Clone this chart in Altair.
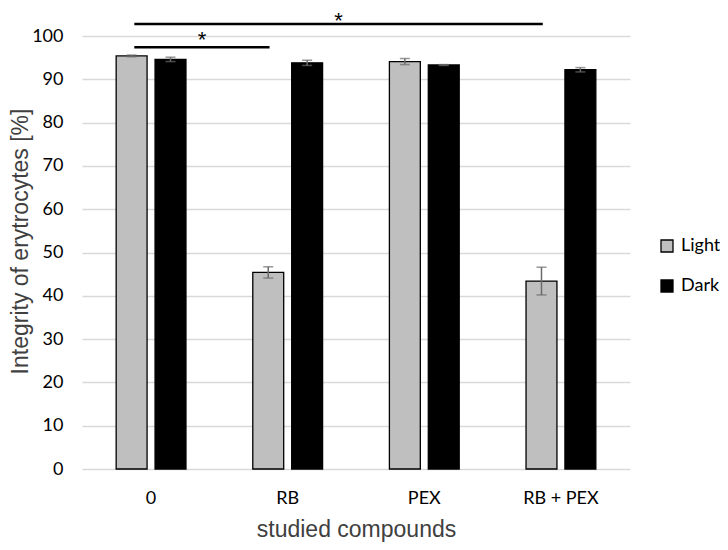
import altair as alt
import pandas as pd

categories = ["0", "RB", "PEX", "RB + PEX"]
series = ["Light", "Dark"]
light_values = [95.4, 45.4, 94.1, 43.4]
light_errors = [0.2, 1.3, 0.7, 3.2]
dark_values = [94.6, 93.8, 93.3, 92.2]
dark_errors = [0.5, 0.6, 0.1, 0.5]
y_ticks = [0, 10, 20, 30, 40, 50, 60, 70, 80, 90, 100]

sig_start = ["0", "0"]
sig_end = ["RB", "RB + PEX"]
sig_line_level = [97.4, 102.8]
sig_star_level = [97.4, 101.8]
sig_marks = ["*", "*"]

x_title = "studied compounds"
y_title = "Integrity of erytrocytes [%]"

rows = []
for c, v, e in zip(categories, light_values, light_errors):
    rows.append({"compound": c, "series": "Light", "value": v, "lo": v - e, "hi": v + e})
for c, v, e in zip(categories, dark_values, dark_errors):
    rows.append({"compound": c, "series": "Dark", "value": v, "lo": v - e, "hi": v + e})
df = pd.DataFrame(rows)

sig_df = pd.DataFrame({"compound": sig_start, "compound_end": sig_end, "level": sig_line_level})
star_df = pd.DataFrame({
    "mid": [(categories.index(s) + categories.index(e)) / 2 for s, e in zip(sig_start, sig_end)],
    "level": sig_star_level,
    "label": sig_marks,
})

PAD_INNER = 0.489
PAD_OUTER = 0.25
B_START = 0.26
B_END = 0.24
n = len(categories)
span_units = n - PAD_INNER + 2 * PAD_OUTER
start_off = PAD_OUTER + 0.5 * (B_START + B_END) * (1 - PAD_INNER)

x_scale = alt.Scale(domain=categories, paddingInner=PAD_INNER, paddingOuter=PAD_OUTER)
off_scale = alt.Scale(domain=series, paddingInner=0.205, paddingOuter=0)
y_scale = alt.Scale(domain=[0, 100], nice=False, zero=True)

x_axis = alt.Axis(
    title=x_title, labelAngle=0, ticks=False, domain=False, grid=False,
    labelPadding=20, labelFont="Lato", labelFontSize=18, labelColor="#000000",
    titleFont="Liberation Sans", titleFontSize=23, titleFontWeight="normal",
    titleColor="#404040", titleBaseline="alphabetic", titleY=67,
)
y_axis = alt.Axis(
    title=y_title, values=y_ticks, grid=True, gridColor="#d9d9d9", gridWidth=1.3,
    domain=False, ticks=False, labelPadding=19, labelFont="Lato", labelFontSize=18,
    labelColor="#000000", titleFont="Liberation Sans", titleFontSize=23,
    titleFontWeight="normal", titleColor="#404040", titleX=-55, titleY=205,
    titleBaseline="alphabetic", titleAlign="center",
)

X = alt.X("compound:N", scale=x_scale, axis=x_axis)
XO = alt.XOffset("series:N", scale=off_scale)

legend = alt.Legend(
    title=None, orient="none", legendX=576, legendY=201, direction="vertical",
    symbolType="square", symbolSize=144, symbolStrokeColor="#000000",
    symbolStrokeWidth=1.3, labelFont="Lato", labelFontSize=18, labelColor="#000000",
    labelOffset=5, rowPadding=22, padding=0,
)

bars = alt.Chart(df).mark_bar(stroke="#000000", strokeWidth=1.3).encode(
    x=X, xOffset=XO,
    y=alt.Y("value:Q", scale=y_scale, axis=y_axis),
    color=alt.Color("series:N", scale=alt.Scale(domain=series, range=["#bfbfbf", "#000000"]), legend=legend),
)

err = alt.Chart(df).mark_rule(color="#6b6b6b", strokeWidth=1.5).encode(
    x=X, xOffset=XO,
    y=alt.Y("lo:Q", scale=y_scale, axis=y_axis), y2="hi:Q",
)
cap_lo = alt.Chart(df).mark_tick(color="#6b6b6b", thickness=1.5, size=10, orient="horizontal").encode(
    x=X, xOffset=XO, y=alt.Y("lo:Q", scale=y_scale, axis=y_axis),
)
cap_hi = alt.Chart(df).mark_tick(color="#6b6b6b", thickness=1.5, size=10, orient="horizontal").encode(
    x=X, xOffset=XO, y=alt.Y("hi:Q", scale=y_scale, axis=y_axis),
)

rules = alt.Chart(sig_df).mark_rule(color="#000000", strokeWidth=2.5).encode(
    x=alt.X("compound:N", scale=x_scale, axis=x_axis, bandPosition=B_START),
    x2=alt.X2("compound_end:N", bandPosition=B_END),
    y=alt.Y("level:Q", scale=y_scale, axis=y_axis),
)

stars = alt.Chart(star_df).mark_text(
    font="Liberation Sans", fontSize=22, baseline="alphabetic", color="#000000"
).encode(
    x=alt.X("mid:Q", scale=alt.Scale(domain=[-start_off, span_units - start_off], nice=False, zero=False), axis=None),
    y=alt.Y("level:Q", scale=y_scale, axis=y_axis),
    text="label:N",
)

inner = alt.layer(bars, err, cap_lo, cap_hi, rules)
chart = alt.layer(inner, stars).resolve_scale(x="independent").properties(
    width=548, height=433,
    padding={"left": 74, "top": 28, "right": 90, "bottom": 73},
    autosize="none",
    background="white",
).configure_view(stroke=None)

chart.save("out.html", embed_options={"renderer": "svg", "actions": False})
